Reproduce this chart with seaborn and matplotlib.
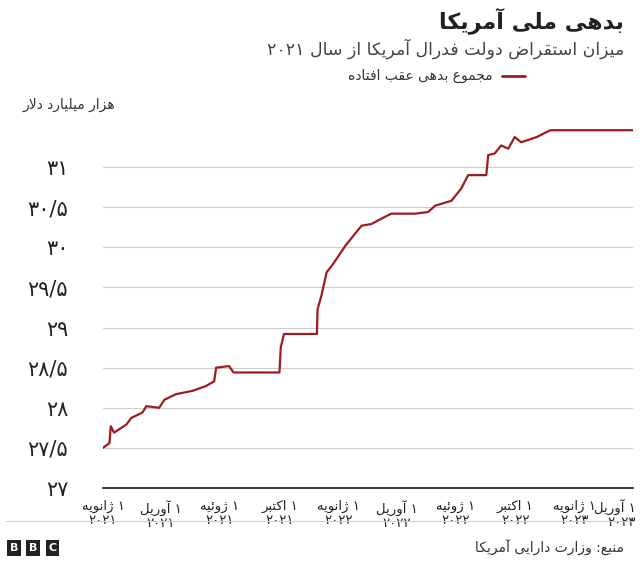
import matplotlib
matplotlib.use("Agg")
import matplotlib.pyplot as plt
import seaborn as sns
import pandas as pd
import re

# ---------- minimal Persian shaping ----------
FORMS = {
 'ا':('\uFE8D','\uFE8E',None,None),'آ':('\uFE81','\uFE82',None,None),
 'ب':('\uFE8F','\uFE90','\uFE91','\uFE92'),'پ':('\uFB56','\uFB57','\uFB58','\uFB59'),
 'ت':('\uFE95','\uFE96','\uFE97','\uFE98'),'ث':('\uFE99','\uFE9A','\uFE9B','\uFE9C'),
 'ج':('\uFE9D','\uFE9E','\uFE9F','\uFEA0'),'د':('\uFEA9','\uFEAA',None,None),
 'ر':('\uFEAD','\uFEAE',None,None),'ز':('\uFEAF','\uFEB0',None,None),
 'ژ':('\uFB8A','\uFB8B',None,None),'س':('\uFEB1','\uFEB2','\uFEB3','\uFEB4'),
 'ض':('\uFEBD','\uFEBE','\uFEBF','\uFEC0'),'ع':('\uFEC9','\uFECA','\uFECB','\uFECC'),
 'ف':('\uFED1','\uFED2','\uFED3','\uFED4'),'ق':('\uFED5','\uFED6','\uFED7','\uFED8'),
 'ک':('\uFB8E','\uFB8F','\uFB90','\uFB91'),'ل':('\uFEDD','\uFEDE','\uFEDF','\uFEE0'),
 'م':('\uFEE1','\uFEE2','\uFEE3','\uFEE4'),'ن':('\uFEE5','\uFEE6','\uFEE7','\uFEE8'),
 'ه':('\uFEE9','\uFEEA','\uFEEB','\uFEEC'),'و':('\uFEED','\uFEEE',None,None),
 'ی':('\uFBFC','\uFBFD','\uFBFE','\uFBFF'),'ئ':('\uFE89','\uFE8A','\uFE8B','\uFE8C'),
}
def shape(word):
    out = []
    chars = list(word)
    i = 0
    n = len(chars)
    while i < n:
        c = chars[i]
        if c not in FORMS:
            out.append(c); i += 1; continue
        prev = chars[i-1] if i > 0 else None
        pj = prev in FORMS and FORMS[prev][2] is not None
        if c == 'ل' and i+1 < n and chars[i+1] == 'ا':
            out.append('\uFEFC' if pj else '\uFEFB'); i += 2; continue
        nxt = chars[i+1] if i+1 < n else None
        nj = nxt in FORMS and FORMS[c][2] is not None
        f = FORMS[c]
        if pj and nj: out.append(f[3])
        elif pj: out.append(f[1])
        elif nj: out.append(f[2])
        else: out.append(f[0])
        i += 1
    return ''.join(out)

def fa(s):
    lines = []
    for line in s.split('\n'):
        sh = shape(line)
        toks = re.findall(r'[۰-۹0-9/]+|[^۰-۹0-9/]+', sh)
        toks = [t if re.match(r'[۰-۹0-9/]', t) else t[::-1] for t in toks]
        lines.append(''.join(reversed(toks)))
    return '\n'.join(lines)

# ---------- data ----------
dates = ["2021-01-01","2021-01-11","2021-01-13","2021-01-18","2021-02-06","2021-02-14",
         "2021-03-03","2021-03-09","2021-03-29","2021-04-06","2021-04-24","2021-05-19",
         "2021-06-09","2021-06-22","2021-06-25","2021-07-15","2021-07-22","2021-10-01",
         "2021-10-03","2021-10-08","2021-11-28","2021-11-29","2021-12-05","2021-12-13",
         "2021-12-21","2022-01-01","2022-01-11","2022-01-24","2022-02-05","2022-02-20",
         "2022-03-06","2022-03-23","2022-04-29","2022-05-19","2022-05-30","2022-06-24",
         "2022-07-09","2022-07-20","2022-08-17","2022-08-20","2022-08-30","2022-09-09",
         "2022-09-20","2022-09-30","2022-10-10","2022-11-03","2022-11-24","2022-12-05",
         "2023-03-04","2023-04-01"]
debt = [27.50,27.56,27.77,27.69,27.79,27.875,27.94,28.02,28.00,28.10,28.17,28.21,
        28.27,28.33,28.50,28.52,28.44,28.44,28.75,28.92,28.92,29.23,29.40,29.69,
        29.77,29.90,30.02,30.15,30.27,30.29,30.35,30.42,30.42,30.44,30.52,30.58,
        30.73,30.90,30.90,31.15,31.17,31.27,31.23,31.375,31.31,31.375,31.46,31.46,
        31.46,31.46]
yticks = [27,27.5,28,28.5,29,29.5,30,30.5,31]
ytick_labels = ["۲۷","۲۷/۵","۲۸","۲۸/۵","۲۹","۲۹/۵","۳۰","۳۰/۵","۳۱"]
xticks = ["2021-01-01","2021-04-01","2021-07-01","2021-10-01","2022-01-01","2022-04-01",
          "2022-07-01","2022-10-01","2023-01-01","2023-04-01"]
xtick_labels = ["۱ ژانویه\n۲۰۲۱","۱ آوریل\n۲۰۲۱","۱ ژوئیه\n۲۰۲۱","۱ اکتبر\n۲۰۲۱",
                "۱ ژانویه\n۲۰۲۲","۱ آوریل\n۲۰۲۲","۱ ژوئیه\n۲۰۲۲","۱ اکتبر\n۲۰۲۲",
                "۱ ژانویه\n۲۰۲۳","۱ آوریل\n۲۰۲۳"]

df = pd.DataFrame({"date": pd.to_datetime(dates), "debt": debt})

sns.set_theme(style="white")
plt.rcParams['font.family'] = ['DejaVu Sans']
RED = "#a01c1c"

fig = plt.figure(figsize=(6.4, 5.75), dpi=100)
ax = fig.add_axes([103/640, 1-488/575, 530/640, (488-123)/575])
sns.lineplot(data=df, x="date", y="debt", color=RED, lw=1.6, ax=ax)
ax.set_xlim(pd.Timestamp("2021-01-01"), pd.Timestamp("2023-04-01"))
ax.set_ylim(27, 31.55)
ax.set_yticks(yticks)
ax.set_yticklabels(ytick_labels, fontsize=15, color="#222222")
ax.set_xticks(pd.to_datetime(xticks))
shown = [fa(s) for s in xtick_labels[:-1]] + [""]
ax.set_xticklabels(shown, fontsize=9.5, color="#222222", linespacing=1.1)
ax.annotate(fa(xtick_labels[-1]), xy=(pd.Timestamp(xticks[-1]), 0), xycoords=("data", "axes fraction"),
            xytext=(2, -8), textcoords="offset points", ha="right", va="top",
            fontsize=9.5, color="#222222", linespacing=1.1, annotation_clip=False)
ax.grid(axis="y", color="#cccccc", lw=0.8)
for s in ["top", "right", "left"]:
    ax.spines[s].set_visible(False)
ax.spines["bottom"].set_color("#222222")
ax.tick_params(axis="y", length=0, pad=25)
ax.tick_params(axis="x", length=5, color="#222222")
ax.set_xlabel(""); ax.set_ylabel("")

fig.text(0.975, 0.965, fa("بدهی ملی آمریکا"), ha="right", va="center", fontsize=16, fontweight="bold", color="#222222")
fig.text(0.975, 0.915, fa("میزان استقراض دولت فدرال آمریکا از سال ۲۰۲۱"), ha="right", va="center", fontsize=12.5, color="#444444")
fig.text(0.77, 0.868, fa("مجموع بدهی عقب افتاده"), ha="right", va="center", fontsize=10, color="#333333")
fig.lines.append(plt.Line2D([0.785, 0.82], [0.868, 0.868], transform=fig.transFigure, color=RED, lw=2))
fig.text(0.18, 0.818, fa("هزار میلیارد دلار"), ha="right", va="center", fontsize=10, color="#333333")
fig.lines.append(plt.Line2D([0.01, 0.99], [0.094, 0.094], transform=fig.transFigure, color="#cccccc", lw=0.8))
fig.text(0.975, 0.047, fa("منبع: وزارت دارایی آمریکا"), ha="right", va="center", fontsize=10, color="#333333")
for i, ch in enumerate("BBC"):
    fig.text(0.022 + i*0.03, 0.047, ch, ha="center", va="center", fontsize=8, fontweight="bold",
             color="white", bbox=dict(boxstyle="square,pad=0.25", fc="#222222", ec="none"))

fig.savefig("out.png", dpi=100)
